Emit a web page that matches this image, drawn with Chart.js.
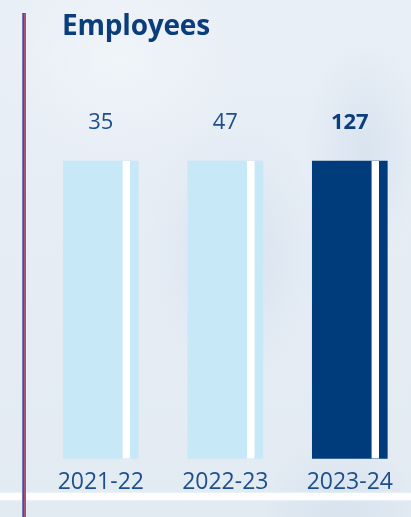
<!DOCTYPE html>
<html>
<head>
<meta charset="utf-8">
<script src="https://cdn.jsdelivr.net/npm/chart.js@4.4.1/dist/chart.umd.min.js"></script>
<style>
  html, body { margin: 0; padding: 0; }
  body { width: 411px; height: 517px; overflow: hidden; position: relative;
    background:
      radial-gradient(ellipse 90px 130px at 235px 250px, rgba(208,222,236,0.6), rgba(208,222,236,0) 100%),
      radial-gradient(ellipse 60px 110px at 365px 150px, rgba(205,220,235,0.55), rgba(205,220,235,0) 100%),
      radial-gradient(ellipse 80px 70px at 340px 510px, rgba(205,220,235,0.5), rgba(205,220,235,0) 100%),
      radial-gradient(ellipse 120px 100px at 120px 60px, rgba(242,246,250,0.8), rgba(242,246,250,0) 100%),
      linear-gradient(180deg, #e9eff6 0%, #e5ecf4 60%, #e2eaf2 100%);
  }
  #wrap { position: absolute; left: 0; top: 0; width: 411px; height: 517px; }
  #title { position: absolute; left: 62px; top: 5px; margin: 0;
    font-family: "Open Sans", sans-serif; font-weight: 700; font-size: 28px;
    color: #0b3c7b; letter-spacing: -0.2px; }
  #band { position: absolute; left: 0; top: 493px; width: 411px; height: 7px;
    background: rgba(255,255,255,0.95); box-shadow: 0 0 3px rgba(255,255,255,0.8); }
  #vline { position: absolute; left: 22px; top: 13px; width: 4px; height: 504px;
    background: linear-gradient(90deg, #7177b0 0px, #7177b0 1px, #4b4f8e 1px, #4b4f8e 2px, #a9507a 2px, #a9507a 4px); }
</style>
</head>
<body>
<div id="band"></div>
<div id="wrap"><canvas id="c" width="411" height="517"></canvas></div>
<div id="vline"></div>
<h1 id="title">Employees</h1>
<script>
const categories = ["2021-22", "2022-23", "2023-24"];
const employees = [35, 47, 127];
// In the original graphic every bar is drawn to the same full height
const barLevel = [1, 1, 1];
const highlight = [false, false, true];

const lightBar = "#c7e8f7";
const darkBar = "#003b7c";
const labelColor = "#1e4f8d";

const stripePlugin = {
  id: "stripe",
  afterDatasetsDraw(chart) {
    const ctx = chart.ctx;
    const meta = chart.getDatasetMeta(0);
    ctx.save();
    meta.data.forEach((bar, i) => {
      const left = bar.x - bar.width / 2;
      const top = Math.min(bar.y, bar.base);
      const h = Math.abs(bar.base - bar.y);
      // white vertical stripe inside each bar
      ctx.fillStyle = "#ffffff";
      ctx.fillRect(left + 59.3, top, 7.4, h);
      // value label above the bar
      ctx.fillStyle = highlight[i] ? "#0b3c7b" : labelColor;
      ctx.font = (highlight[i] ? "700 " : "400 ") + "22px 'Open Sans', sans-serif";
      ctx.textAlign = "center";
      ctx.textBaseline = "middle";
      ctx.fillText(String(employees[i]), bar.x, top - 38);
    });
    ctx.restore();
  }
};

new Chart(document.getElementById("c"), {
  type: "bar",
  data: {
    labels: categories,
    datasets: [{
      data: barLevel,
      backgroundColor: highlight.map(h => h ? darkBar : lightBar),
      borderWidth: 0,
      barThickness: 75,
      clip: false
    }]
  },
  options: {
    responsive: false,
    animation: false,
    events: [],
    layout: { padding: { left: 100.8, right: 61.2, top: 161, bottom: 11 } },
    plugins: { legend: { display: false }, tooltip: { enabled: false } },
    scales: {
      x: {
        offset: false,
        grid: { display: false, drawTicks: false },
        border: { display: false },
        ticks: {
          color: labelColor,
          font: { family: "'Open Sans', sans-serif", size: 23 },
          padding: 10,
          maxRotation: 0,
          autoSkip: false
        }
      },
      y: { display: false, min: 0, max: 1 }
    }
  },
  plugins: [stripePlugin]
});
</script>
</body>
</html>
